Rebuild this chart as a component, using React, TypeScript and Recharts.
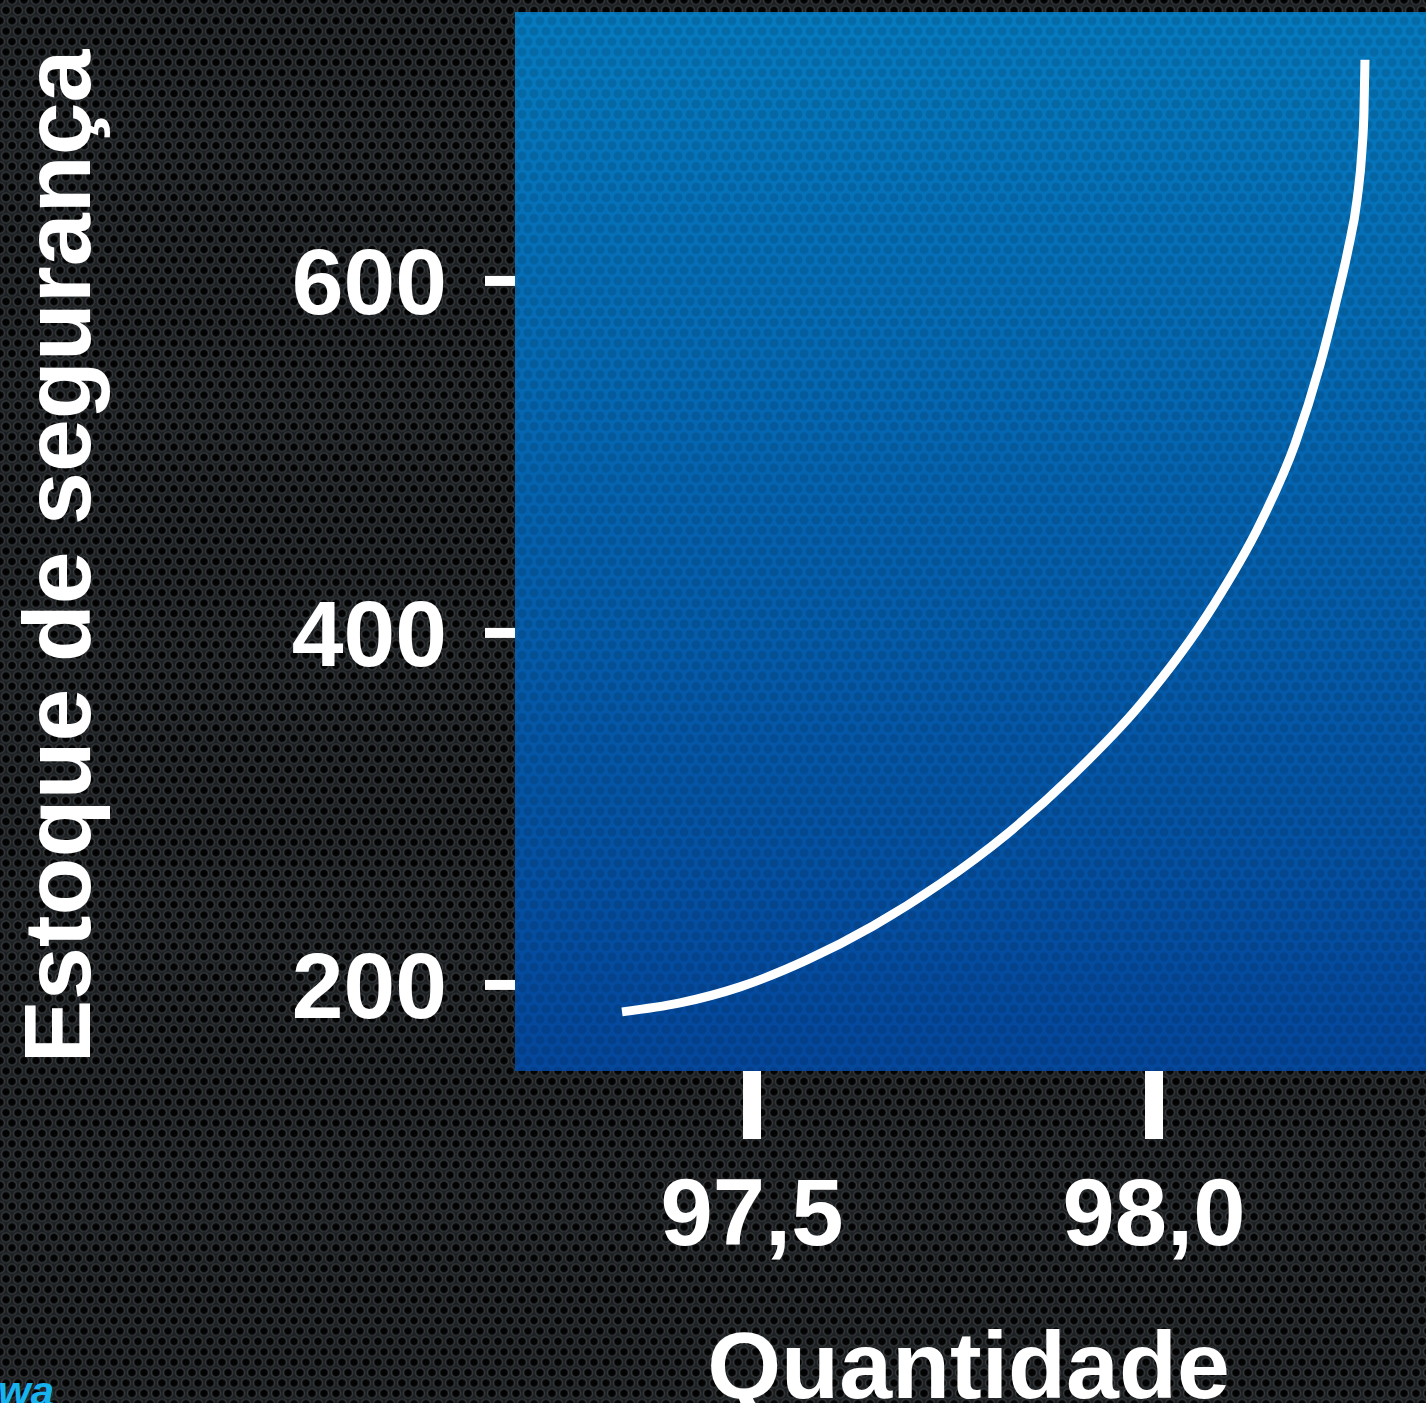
import { LineChart, Line, XAxis, YAxis, CartesianGrid, Label, ReferenceArea } from 'recharts';

// service level (x) vs safety stock (y)
const quantidade = [
  97.3383, 97.4104, 97.4851, 97.5684, 97.6505, 97.7338, 97.8172, 97.8993, 97.9826, 98.0734,
  98.1318, 98.1754, 98.2065, 98.2276, 98.2413, 98.2525, 98.2587, 98.2612, 98.2624,
];
const estoque = [
  184.7, 189.8, 198.9, 214.2, 233.5, 257.4, 285.8, 319.3, 359.1, 415.3,
  461.9, 507.4, 552.3, 590.3, 617.6, 646.0, 674.4, 697.2, 725.6,
];

const xTicks = [97.5, 98.0];
const yTicks = [200, 400, 600];
const xDomain = [97.2052, 98.3383];
const yDomain = [151.1, 752.8];

const font = "'Liberation Sans', Arial, Helvetica, sans-serif";

const data = quantidade.map((q, i) => ({ quantidade: q, estoque: estoque[i] }));

const fmtX = (v: number) => v.toFixed(1).replace('.', ',');

const YTitle = ({ viewBox }: any) => {
  const x = viewBox.x + 90;
  const y = viewBox.y + viewBox.height / 2 + 15;
  return (
    <text
      x={x}
      y={y}
      transform={`rotate(-90 ${x} ${y})`}
      textAnchor="middle"
      fill="#fff"
      fontSize={95}
      fontWeight={700}
      fontFamily={font}
    >
      Estoque de segurança
    </text>
  );
};

const XTitle = ({ viewBox }: any) => (
  <text
    x={viewBox.x + viewBox.width / 2 - 2}
    y={viewBox.y + viewBox.height - 5}
    textAnchor="middle"
    fill="#fff"
    fontSize={95}
    fontWeight={700}
    fontFamily={font}
  >
    Quantidade
  </text>
);

const pageBg = {
  backgroundColor: '#1c1f21',
  backgroundImage:
    'radial-gradient(circle, #030303 0 3px, #34383b 4.6px, transparent 5.8px),' +
    'radial-gradient(circle, #030303 0 3px, #34383b 4.6px, transparent 5.8px)',
  backgroundSize: '12px 20.8px, 12px 20.8px',
  backgroundPosition: '0 0, 6px 10.4px',
};

export default function App() {
  return (
    <div style={{ position: 'relative', width: 1426, height: 1403, overflow: 'hidden', ...pageBg }}>
      <style>{'body{margin:0}'}</style>
      <LineChart width={1426} height={1403} data={data} margin={{ top: 12, right: 0, bottom: 0, left: 0 }}>
        <defs>
          <linearGradient id="plotBg" x1="0" y1="0" x2="0" y2="1">
            <stop offset="0%" stopColor="#067bbf" />
            <stop offset="100%" stopColor="#04479c" />
          </linearGradient>
          <pattern id="holes" width="12" height="20.8" patternUnits="userSpaceOnUse">
            <circle cx="0" cy="0" r="4.5" fill="#000" fillOpacity={0.12} />
            <circle cx="12" cy="0" r="4.5" fill="#000" fillOpacity={0.12} />
            <circle cx="0" cy="20.8" r="4.5" fill="#000" fillOpacity={0.12} />
            <circle cx="12" cy="20.8" r="4.5" fill="#000" fillOpacity={0.12} />
            <circle cx="6" cy="10.4" r="4.5" fill="#000" fillOpacity={0.12} />
          </pattern>
        </defs>
        <CartesianGrid horizontal={false} vertical={false} fill="url(#plotBg)" />
        <ReferenceArea
          x1={xDomain[0]}
          x2={xDomain[1]}
          y1={yDomain[0]}
          y2={yDomain[1]}
          fill="url(#holes)"
          fillOpacity={1}
          stroke="none"
          ifOverflow="hidden"
        />
        <XAxis
          type="number"
          dataKey="quantidade"
          domain={xDomain}
          allowDataOverflow
          ticks={xTicks}
          tickFormatter={fmtX}
          axisLine={false}
          tickLine={{ stroke: '#fff', strokeWidth: 18 }}
          tickSize={68}
          tickMargin={39}
          height={332}
          tick={{ fill: '#fff', fontSize: 94, fontWeight: 700, fontFamily: font }}
        >
          <Label content={<XTitle />} />
        </XAxis>
        <YAxis
          type="number"
          dataKey="estoque"
          domain={yDomain}
          allowDataOverflow
          ticks={yTicks}
          axisLine={false}
          tickLine={{ stroke: '#fff', strokeWidth: 10 }}
          tickSize={30}
          tickMargin={38}
          width={515}
          tick={{ fill: '#fff', fontSize: 93, fontWeight: 700, fontFamily: font }}
        >
          <Label content={<YTitle />} />
        </YAxis>
        <Line
          type="monotone"
          dataKey="estoque"
          stroke="#fff"
          strokeWidth={9}
          dot={false}
          activeDot={false}
          isAnimationActive={false}
        />
      </LineChart>
      <div
        style={{
          position: 'absolute',
          left: -2,
          top: 1371,
          color: '#17b3ee',
          fontFamily: font,
          fontWeight: 700,
          fontStyle: 'italic',
          fontSize: 42,
          lineHeight: '42px',
        }}
      >
        wa
      </div>
    </div>
  );
}
